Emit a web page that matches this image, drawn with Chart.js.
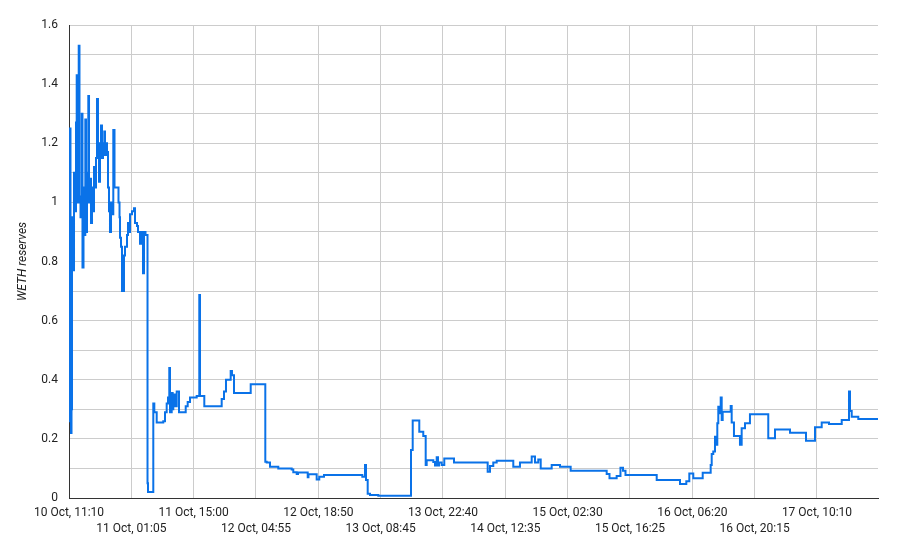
<!DOCTYPE html>
<html>
<head>
<meta charset="utf-8">
<script src="https://cdn.jsdelivr.net/npm/chart.js@4.4.1/dist/chart.umd.min.js"></script>
<style>
  html, body { margin: 0; padding: 0; background: #fff; }
  #wrap { width: 902px; height: 548px; position: relative; }
</style>
</head>
<body>
<div id="wrap"><canvas id="reserves"></canvas></div>
<script>
// hours since 10 Oct, 11:10
const hoursSinceStart = [
  0, 0.11, 0.33, 0.45, 0.56, 0.67, 0.89, 1.12, 1.34, 1.56, 1.72, 1.90, 2.17, 2.34, 2.57, 2.84,
  3.01, 3.24, 3.46, 3.64, 3.80, 4.02, 4.31, 4.47, 4.69, 4.91, 5.14, 5.36, 5.58, 5.81, 6.03,
  6.25, 6.47, 6.70, 6.92, 7.14, 7.37, 7.59, 7.88, 8.04, 8.26, 8.48, 8.71, 8.93, 9.15, 9.38,
  9.60, 9.89, 10.16, 10.38, 10.72, 11.05, 11.28, 11.39, 11.61, 11.83, 12.28, 12.50, 12.95,
  13.17, 13.40, 13.62, 14.07, 14.51, 14.74, 15.18, 15.41, 15.85, 16.08, 16.52, 16.75, 17.08,
  17.53, 17.64, 18.64, 18.82, 19.05, 19.58, 21.05, 21.43, 21.81, 22.10, 22.39, 22.55,
  22.93, 23.15, 23.29, 23.67, 24.05, 24.56, 26.06, 26.50, 27.02, 28.51, 29.09, 29.25, 30.21,
  34.09, 34.61, 35.05, 36.10, 36.39, 36.84, 40.57, 43.83, 44.14, 44.88, 46.73, 49.72, 50.08,
  50.84, 51.13, 53.30, 53.47, 55.30, 55.88, 56.93, 65.49, 66.09, 66.31, 66.69, 67.20, 69.06,
  76.36, 76.74, 78.21, 79.10, 79.64, 79.86, 81.34, 81.72, 82.10, 82.39, 82.61, 83.21, 83.79,
  85.96, 93.48, 94.00, 94.73, 95.49, 99.20, 100.69, 103.31, 104.04, 104.78, 105.32, 107.77,
  109.63, 112.01, 120.05, 120.68, 122.28, 123.13, 123.69, 124.25, 131.22, 136.42, 137.83,
  138.50, 139.39, 141.49, 143.27, 143.50, 143.85, 144.23, 144.46, 144.75, 144.97, 145.19,
  145.51, 145.73, 145.95, 147.74, 147.96, 148.47, 149.81, 150.19, 150.93, 152.04, 156.13,
  157.63, 160.98, 164.55, 166.56, 168.06, 169.69, 172.53, 174.15, 174.38, 174.76, 176.23, 180.63
];

const wethReserves = [
  0.26, 1.25, 0.55, 0.22, 0.30, 0.95, 0.77, 1.10, 0.97, 1.27, 1.43, 1.00, 1.53, 1.02, 0.95, 1.30,
  0.78, 1.05, 0.89, 1.28, 0.90, 1.10, 1.36, 1.00, 1.08, 0.93, 1.05, 0.97, 1.12, 1.05, 1.15,
  1.35, 1.18, 1.07, 1.20, 1.26, 1.15, 1.20, 1.24, 1.16, 1.20, 1.17, 1.05, 0.97, 0.90, 1.00,
  0.96, 1.245, 1.05, 1.05, 1.05, 1.00, 0.95, 0.88, 0.85, 0.70, 0.82, 0.85, 0.89,
  0.93, 0.90, 0.96, 0.97, 0.98, 0.93, 0.92, 0.90, 0.86, 0.90, 0.76, 0.90, 0.89,
  0.05, 0.02, 0.02, 0.32, 0.29, 0.255, 0.26, 0.29, 0.32, 0.34, 0.44, 0.29,
  0.355, 0.30, 0.35, 0.31, 0.36, 0.29, 0.31, 0.325, 0.34, 0.345, 0.687, 0.345, 0.31,
  0.335, 0.36, 0.40, 0.43, 0.415, 0.355, 0.385, 0.123, 0.12, 0.106, 0.10, 0.096, 0.087,
  0.081, 0.086, 0.07, 0.08, 0.063, 0.072, 0.078, 0.072, 0.112, 0.061, 0.014, 0.01, 0.008,
  0.162, 0.262, 0.224, 0.21, 0.112, 0.128, 0.122, 0.11, 0.138, 0.11, 0.12, 0.112, 0.134,
  0.12, 0.089, 0.108, 0.12, 0.126, 0.106, 0.12, 0.14, 0.12, 0.13, 0.10, 0.112,
  0.106, 0.092, 0.081, 0.067, 0.074, 0.102, 0.092, 0.078, 0.061, 0.047, 0.057,
  0.083, 0.067, 0.085, 0.112, 0.149, 0.157, 0.207, 0.18, 0.253, 0.309, 0.287,
  0.34, 0.264, 0.292, 0.311, 0.255, 0.21, 0.18, 0.236, 0.253, 0.283, 0.202,
  0.232, 0.221, 0.194, 0.239, 0.255, 0.25, 0.264, 0.36, 0.294, 0.275, 0.267, 0.267
];

const xTickLabels = [
  '10 Oct, 11:10', '11 Oct, 01:05', '11 Oct, 15:00', '12 Oct, 04:55', '12 Oct, 18:50',
  '13 Oct, 08:45', '13 Oct, 22:40', '14 Oct, 12:35', '15 Oct, 02:30', '15 Oct, 16:25',
  '16 Oct, 06:20', '16 Oct, 20:15', '17 Oct, 10:10'
];
const tickStepHours = 13 + 55 / 60;

const yMax = 1.6;
const xMax = 180.63;

Chart.defaults.font.family = 'Roboto';
Chart.defaults.font.size = 12;
Chart.defaults.color = '#222';

const ctx = document.getElementById('reserves').getContext('2d');

new Chart(ctx, {
  type: 'line',
  data: {
    datasets: [{
      label: 'WETH reserves',
      data: hoursSinceStart.map((h, i) => ({ x: h, y: wethReserves[i] })),
      borderColor: '#0a72e8',
      borderWidth: 2,
      pointRadius: 0,
      stepped: 'before', // value holds until the next reading
      fill: false,
    }]
  },
  options: {
    responsive: true,
    maintainAspectRatio: false,
    animation: false,
    layout: { padding: { left: 0, right: 24, top: 25, bottom: 0 } },
    plugins: {
      legend: { display: false },
      tooltip: { enabled: false },
    },
    scales: {
      x: {
        type: 'linear',
        min: 0,
        max: xMax,
        afterBuildTicks: s => { s.ticks = xTickLabels.map((_, i) => ({ value: i * tickStepHours })); },
        afterFit: s => { s.height = 50; },
        grid: { color: '#cccccc', drawTicks: false },
        border: { color: '#333', width: 1 },
        ticks: {
          autoSkip: false,
          maxRotation: 0,
          padding: 7,
          font: { lineHeight: 1.35 },
          callback: (v, i) => i % 2 ? ['', xTickLabels[i]] : xTickLabels[i],
        }
      },
      y: {
        min: 0,
        max: yMax,
        afterFit: s => { s.width = 69; },
        grid: { color: '#cccccc', drawTicks: false },
        border: { color: '#333', width: 1 },
        title: {
          display: true,
          text: 'WETH reserves',
          font: { style: 'italic', size: 12 },
          padding: { top: 16, bottom: 0 },
        },
        ticks: {
          stepSize: 0.1,
          padding: 11,
          callback: v => {
            const t = Math.round(v * 10);
            return t % 2 ? '' : String(t / 10);
          }
        }
      }
    }
  }
});
</script>
</body>
</html>
